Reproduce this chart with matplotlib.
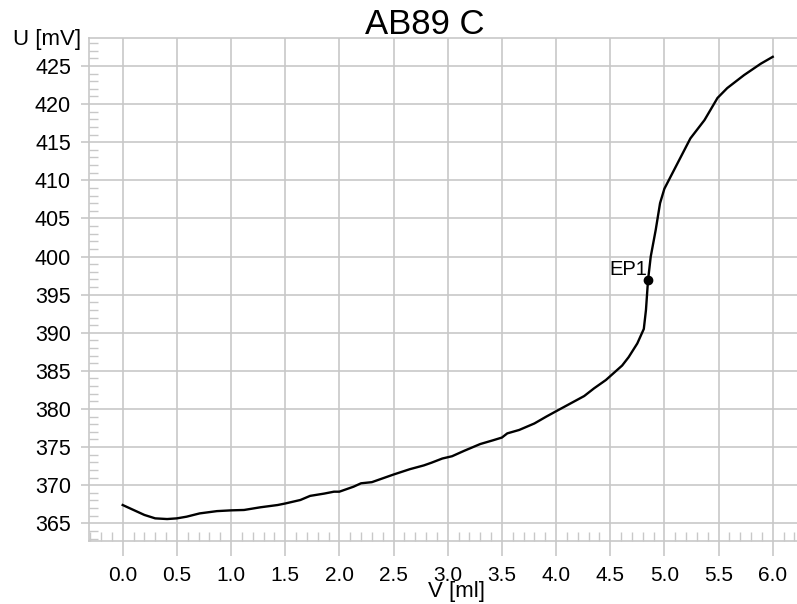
import matplotlib
matplotlib.use("Agg")
import matplotlib.pyplot as plt
from matplotlib.ticker import MultipleLocator

plt.rcParams['font.family'] = ['Liberation Sans', 'DejaVu Sans']

title = "AB89 C"
x_label = "V [ml]"
y_label = "U [mV]"

volume = [0.00, 0.10, 0.20, 0.30, 0.41, 0.50, 0.59, 0.71, 0.87, 1.00, 1.12, 1.27,
          1.43, 1.50, 1.64, 1.73, 1.86, 1.95, 2.00, 2.13, 2.20, 2.30, 2.40, 2.50,
          2.65, 2.78, 2.85, 2.95, 3.04, 3.15, 3.30, 3.42, 3.50, 3.55, 3.66, 3.80,
          3.91, 4.00, 4.13, 4.26, 4.35, 4.46, 4.61, 4.67, 4.75, 4.81, 4.83, 4.849,
          4.874, 4.92, 4.96, 5.00, 5.12, 5.24, 5.37, 5.49, 5.58, 5.735, 5.89, 6.00]
potential = [367.4, 366.75, 366.1, 365.65, 365.56, 365.65, 365.87, 366.3, 366.6, 366.7,
             366.75, 367.1, 367.4, 367.6, 368.06, 368.6, 368.9, 369.15, 369.15, 369.8,
             370.25, 370.4, 370.9, 371.4, 372.1, 372.6, 372.95, 373.5, 373.8, 374.5,
             375.4, 375.9, 376.25, 376.8, 377.25, 378.1, 379.0, 379.7, 380.7, 381.7,
             382.7, 383.8, 385.7, 386.8, 388.6, 390.5, 393.0, 396.9, 400.0, 403.5,
             407.0, 408.9, 412.2, 415.5, 417.9, 420.8, 422.1, 423.8, 425.3, 426.2]

ep_label = "EP1"
ep_volume = 4.849
ep_potential = 396.9

x_ticks = [0.0, 0.5, 1.0, 1.5, 2.0, 2.5, 3.0, 3.5, 4.0, 4.5, 5.0, 5.5, 6.0]
y_ticks = [365, 370, 375, 380, 385, 390, 395, 400, 405, 410, 415, 420, 425]

W, H = 797, 604
fig = plt.figure(figsize=(W / 100, H / 100), dpi=100)
ax = fig.add_axes([89 / W, 1 - 541 / H, 1 - 89 / W, (541 - 38) / H])

grid_col = "#c8c8c8"
ax.plot(volume, potential, color="black", lw=1.7, zorder=3)
ax.plot([ep_volume], [ep_potential], 'o', color="black", ms=6, zorder=4)
ax.text(ep_volume - 0.01, ep_potential + 0.2, ep_label, ha="right", va="bottom",
        fontsize=14.5, zorder=4)

ax.set_xlim(-0.311, 6.224)
ax.set_ylim(362.68, 428.67)

ax.set_xticks(x_ticks)
ax.set_xticklabels([f"{v:.1f}" for v in x_ticks])
ax.set_yticks(y_ticks)
ax.set_yticklabels([str(v) for v in y_ticks])
ax.xaxis.set_minor_locator(MultipleLocator(0.1))
ax.yaxis.set_minor_locator(MultipleLocator(1))

ax.grid(True, which="major", color=grid_col, lw=1.2)
ax.tick_params(axis="x", which="major", direction="out", length=11, width=1.2,
               color=grid_col, labelsize=15, pad=7)
ax.tick_params(axis="y", which="major", direction="out", length=6, width=1.2,
               color=grid_col, labelsize=15.5, pad=7)
ax.tick_params(which="minor", direction="in", length=6.5, width=1.0, color=grid_col)

for s in ["left", "bottom", "top"]:
    ax.spines[s].set_color(grid_col)
    ax.spines[s].set_linewidth(1.2)
ax.spines["right"].set_visible(False)

fig.text(425 / W, 1 - 24 / H, title, ha="center", va="center", fontsize=25)
fig.text(47 / W, 1 - 40 / H, y_label, ha="center", va="center", fontsize=16)
fig.text(456 / W, 1 - 592 / H, x_label, ha="center", va="center", fontsize=16)

fig.savefig("out.png", dpi=100)
